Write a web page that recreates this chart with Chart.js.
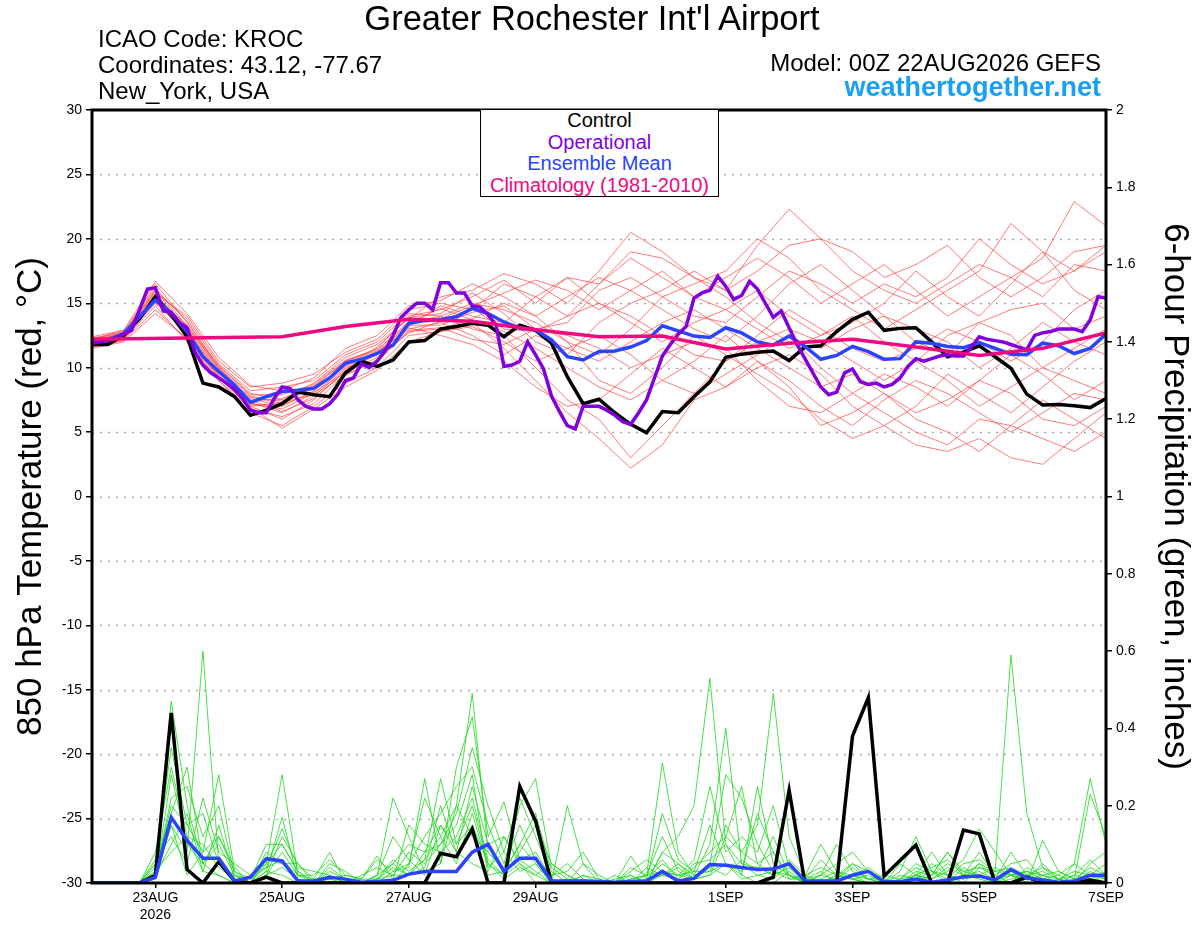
<!DOCTYPE html>
<html>
<head>
<meta charset="utf-8">
<script src="https://cdn.jsdelivr.net/npm/chart.js@4.4.1/dist/chart.umd.min.js"></script>
<style>
  body { margin: 0; background: #fff; font-family: "Liberation Sans", Arial, sans-serif; }
  #wrap { position: relative; width: 1200px; height: 927px; }
  #chart { position: absolute; left: 0; top: 0; }
  .txt { position: absolute; white-space: nowrap; line-height: 1; color: #000; }
  #legendBox { position: absolute; left: 480px; top: 109px; width: 237px; height: 86px;
    border: 1.5px solid #000; background: #fff; text-align: center; font-size: 20px; line-height: 21.5px; }
</style>
</head>
<body>
<div id="wrap">
  <canvas id="chart" width="1200" height="927"></canvas>
  <div class="txt" style="left:0;width:1184px;text-align:center;top:1px;font-size:34.5px">Greater Rochester Int'l Airport</div>
  <div class="txt" style="left:98px;top:27px;font-size:24px">ICAO Code: KROC</div>
  <div class="txt" style="left:98px;top:53px;font-size:24px">Coordinates: 43.12, -77.67</div>
  <div class="txt" style="left:98px;top:79px;font-size:24px">New_York, USA</div>
  <div class="txt" style="right:99px;top:51px;font-size:24px">Model: 00Z 22AUG2026 GEFS</div>
  <div class="txt" style="right:99px;top:74px;font-size:27px;font-weight:bold;color:#18a0f5">weathertogether.net</div>
  <div id="legendBox">
    <div style="color:#000">Control</div>
    <div style="color:#8200dc">Operational</div>
    <div style="color:#2a44ff">Ensemble Mean</div>
    <div style="color:#f0087f">Climatology (1981-2010)</div>
  </div>
</div>
<script>
// forecast hours from 00Z 22AUG2026
const tickHours = [24, 72, 120, 168, 240, 288, 336, 384];
const tickLabels = [['23AUG', '2026'], '25AUG', '27AUG', '29AUG', '1SEP', '3SEP', '5SEP', '7SEP'];

// 850 hPa temperature, 6-hourly
const ctrlTemp = [
  11.8, 11.8, 12.5, 13.8, 15.5, 14.1, 12.4, 8.8,
  8.5, 7.75, 6.3, 6.7, 7.2, 8.1, 7.9, 7.75,
  9.6, 10.5, 10.1, 10.6, 12.0, 12.1, 13.0, 13.2,
  13.45, 13.3, 12.4, 13.3, 12.9, 11.9, 9.3, 7.2,
  7.55, 6.5, 5.6, 4.95, 6.6, 6.5, 7.75, 8.9,
  10.8, 11.05, 11.2, 11.3, 10.55, 11.6, 11.7, 12.8,
  13.75, 14.3, 12.9, 13.05, 13.1, 12.0, 10.85, 11.2,
  11.7, 10.85, 9.95, 7.95, 7.1, 7.15, 7.05, 6.9,
  7.6
];
const meanTemp = [
  11.95, 12.15, 12.65, 13.95, 15.25, 14.2, 12.8, 10.85,
  9.7, 8.65, 7.3, 7.75, 8.15, 8.25, 8.4, 9.2,
  10.35, 10.65, 11.1, 11.75, 13.45, 13.65, 13.75, 13.95,
  14.6, 14.2, 13.55, 13.05, 12.95, 12.15, 10.85, 10.6,
  11.25, 11.3, 11.6, 12.1, 13.25, 12.85, 12.45, 12.35,
  13.1, 12.7, 12.0, 11.75, 12.45, 11.65, 10.65, 10.95,
  11.65, 11.25, 10.65, 10.7, 12.0, 11.9, 11.65, 11.55,
  11.95, 11.5, 11.05, 11.0, 11.9, 11.7, 11.1, 11.5,
  12.6
];
// operational run, 3-hourly
const opTemp = [
  11.9, 12.0, 12.1, 12.3, 12.6, 12.9, 14.5, 16.1,
  16.2, 14.4, 14.3, 13.5, 13.1, 11.2, 10.2, 9.6,
  9.2, 8.8, 8.3, 7.6, 6.7, 6.5, 6.5, 7.6,
  8.5, 8.4, 7.5, 7.0, 6.8, 6.8, 7.2, 7.9,
  9.0, 9.2, 10.3, 10.0, 10.5, 11.3, 12.5, 13.9,
  14.5, 15.0, 15.0, 14.5, 16.6, 16.6, 15.8, 15.8,
  14.8, 14.7, 14.1, 13.3, 10.1, 10.2, 10.5, 12.0,
  11.0, 9.9, 7.8, 6.6, 5.5, 5.25, 7.0, 7.0,
  7.0, 6.7, 6.3, 5.8, 5.6, 6.5, 7.5, 9.2,
  10.9, 11.8, 12.6, 13.2, 15.4, 15.8, 16.0, 17.1,
  16.3, 15.3, 15.6, 16.7, 16.1, 15.0, 13.9, 14.4,
  13.1, 11.8, 10.7, 9.6, 8.5, 7.9, 8.1, 9.6,
  9.9, 8.9, 8.7, 8.8, 8.5, 8.7, 9.2, 10.1,
  10.7, 10.5, 10.7, 10.9, 11.0, 10.9, 10.9, 11.6,
  12.4, 12.2, 12.1, 12.0, 11.8, 11.6, 11.4, 12.5,
  12.7, 12.8, 13.0, 13.0, 13.0, 12.8, 13.7, 15.5,
  15.4
];
const climHours = [0, 72, 96, 120, 144, 168, 192, 216, 240, 264, 288, 312, 336, 360, 384];
const climTemp = [12.2, 12.4, 13.2, 13.75, 13.6, 12.95, 12.4, 12.45, 11.45, 11.9, 12.2, 11.6, 10.95, 11.5, 12.7];

// ensemble members, 12-hourly
const tempMembers = [
  [12.0,12.6,16.5,13.5,10.0,7.8,7.2,8.5,10.5,11.5,14.0,14.5,15.5,16.8,15.0,17.0,16.5,19.0,18.5,17.0,16.0,19.5,22.3,20.0,17.5,16.0,15.0,16.5,18.0,17.0,15.5,18.0,17.5],
  [11.8,12.3,15.0,12.8,9.5,7.0,6.0,7.5,9.8,11.0,13.5,14.0,13.0,12.5,10.0,7.5,6.0,3.0,5.5,8.0,9.5,11.0,12.5,10.0,8.0,6.5,5.0,4.0,6.0,5.5,4.5,3.5,5.0],
  [12.2,12.8,15.8,14.0,10.5,8.5,8.8,9.5,11.2,12.2,14.5,15.0,14.5,16.5,15.5,14.0,16.5,18.5,17.0,15.5,14.5,16.0,14.0,12.5,13.5,15.0,17.5,15.5,14.0,16.5,19.0,17.5,19.5],
  [11.6,12.1,14.5,12.2,9.0,6.5,5.5,7.0,8.8,10.0,12.5,12.8,13.5,11.5,9.0,6.5,4.5,2.2,4.0,7.5,8.5,10.5,9.0,7.0,5.5,7.5,9.0,8.0,6.5,5.0,6.5,8.0,7.5],
  [12.4,12.9,16.2,13.2,10.2,8.0,7.5,8.8,10.8,11.8,13.8,15.5,16.0,17.3,16.5,15.0,17.5,20.5,19.0,17.0,15.5,13.5,12.0,11.5,13.0,14.0,12.0,11.0,13.5,12.5,10.0,11.5,13.0],
  [11.9,12.4,15.2,12.5,9.3,7.2,6.8,8.0,10.0,11.2,13.0,13.5,12.5,11.0,12.5,11.5,10.5,12.0,13.5,14.5,13.0,11.5,10.0,8.5,9.5,8.0,6.5,7.5,9.0,11.0,9.5,7.5,9.0],
  [12.1,12.7,15.9,13.8,10.3,8.2,8.5,9.0,11.0,12.0,14.2,14.0,15.0,14.5,13.5,12.0,11.0,13.0,15.5,16.5,17.5,20.0,18.5,16.0,14.5,13.0,14.5,16.0,17.5,21.2,19.0,16.0,14.5],
  [11.7,12.2,14.8,12.0,9.0,6.8,6.2,7.2,9.5,10.5,12.8,13.0,13.8,15.0,14.0,12.0,9.0,8.0,10.0,12.5,11.0,9.5,8.0,6.0,4.5,5.5,7.0,9.5,8.0,6.5,8.5,10.5,12.0],
  [12.3,12.5,16.0,13.0,9.8,7.6,7.0,8.2,10.2,11.0,13.2,14.8,14.0,13.5,15.5,17.0,15.0,14.0,12.5,11.0,10.5,12.5,14.5,13.0,11.5,10.5,11.5,13.0,12.0,10.5,12.0,14.5,16.0],
  [12.0,12.6,15.5,13.3,9.9,7.4,7.6,8.6,10.5,11.3,13.6,13.8,14.8,15.8,16.8,16.0,14.5,16.0,17.5,15.5,17.0,18.5,17.0,15.0,16.5,18.0,16.0,14.0,15.5,17.0,18.5,22.9,21.0],
  [11.8,12.4,15.3,12.7,9.6,7.3,6.5,7.8,9.9,11.1,13.1,12.5,11.8,10.5,8.5,7.0,7.5,9.5,11.5,10.0,8.5,10.0,11.0,9.5,7.0,5.5,4.0,3.5,4.5,3.0,2.5,4.5,6.5],
  [12.2,12.9,16.7,14.2,10.8,8.6,8.2,9.2,11.5,12.5,14.8,15.2,16.5,15.5,14.0,15.5,17.0,16.0,14.5,13.0,12.0,14.0,16.5,18.0,16.0,14.0,13.0,12.0,10.0,11.5,13.5,12.0,11.0],
  [11.5,12.0,14.2,12.3,9.2,6.9,5.3,6.8,8.5,9.8,12.0,12.8,13.2,12.0,10.5,11.5,12.5,11.0,9.0,8.0,10.5,12.0,13.0,12.0,10.5,9.0,10.5,9.0,7.0,8.5,10.0,9.0,8.0],
  [12.0,12.5,15.6,12.9,9.7,7.7,7.4,8.4,10.1,11.6,13.9,14.2,15.8,14.2,12.0,11.0,13.5,15.0,16.0,17.5,16.0,17.5,19.5,20.0,19.0,17.0,18.0,19.5,17.0,15.5,17.0,19.0,19.5],
  [12.3,12.7,16.1,13.6,10.1,7.9,7.9,8.7,10.6,11.4,13.5,14.6,13.7,12.8,11.5,10.0,8.5,7.5,9.0,10.5,12.5,10.5,8.5,5.5,6.5,8.0,6.0,5.0,3.5,5.5,7.5,6.0,4.5],
  [11.9,12.3,15.1,12.6,9.4,7.1,7.1,8.1,9.6,10.8,12.7,13.6,14.6,13.0,12.8,14.0,15.0,13.5,12.0,13.5,14.5,13.0,11.5,12.5,14.0,12.0,10.5,12.5,13.5,14.5,15.0,13.0,14.0],
  [12.1,12.6,15.7,13.1,10.0,7.5,6.6,7.6,9.7,11.2,13.3,13.3,14.3,14.8,13.0,13.5,16.0,17.0,15.5,14.0,13.5,15.5,17.5,16.5,15.0,16.5,15.5,17.0,20.0,18.0,16.5,17.5,19.0],
  [11.7,12.2,15.4,12.4,9.2,7.0,7.3,7.9,9.4,10.6,12.9,13.1,12.2,11.8,13.0,12.5,11.5,10.0,11.0,12.0,11.5,9.0,7.0,6.5,8.0,9.5,8.5,7.0,9.0,8.0,6.0,5.5,7.0]
];

// 6-hour precipitation (inches), 6-hourly
const ctrlPrecip = [
  0, 0, 0, 0, 0.02, 0.44, 0.035, 0,
  0.055, 0.005, 0, 0.015, 0, 0, 0, 0,
  0, 0, 0, 0, 0, 0, 0.077, 0.068,
  0.14, 0, 0, 0.25, 0.16, 0, 0, 0,
  0, 0, 0, 0, 0, 0, 0, 0,
  0, 0, 0, 0.015, 0.24, 0, 0, 0,
  0.38, 0.48, 0.018, 0.058, 0.098, 0, 0, 0.137,
  0.127, 0, 0, 0.015, 0, 0, 0, 0.008,
  0
];
const meanPrecip = [
  0, 0, 0, 0, 0.015, 0.17, 0.11, 0.064,
  0.064, 0.005, 0.015, 0.063, 0.057, 0.005, 0.005, 0.015,
  0.01, 0.002, 0.004, 0.007, 0.023, 0.03, 0.03, 0.03,
  0.08, 0.1, 0.03, 0.064, 0.064, 0.005, 0.005, 0.005,
  0.004, 0.002, 0.004, 0.005, 0.03, 0.005, 0.012, 0.048,
  0.046, 0.04, 0.035, 0.036, 0.05, 0.006, 0.005, 0.005,
  0.02, 0.03, 0.003, 0.003, 0.01, 0.002, 0.008, 0.016,
  0.018, 0.008, 0.035, 0.013, 0.008, 0.002, 0.005, 0.02,
  0.02
];
const precipMembers = [
  [0,0,0,0,0.02,0.15,0.08,0.6,0.05,0,0,0.03,0.02, 0,0,0,0,0,0.02,0.05,0.1,0.08,0.15,0.1,0.2,0.05, 0.02,0.05,0,0,0,0,0,0,0.02,0,0.08,0.12,0.2, 0.53,0.1,0.02,0,0,0.03,0,0,0.02,0.01,0,0,0, 0.02,0,0,0.04,0.02,0,0.03,0,0,0.01,0,0.02,0],
  [0,0,0,0,0.05,0.47,0.2,0.05,0.02,0,0.02,0.05,0.1, 0.03,0,0.02,0,0,0,0,0.05,0.22,0.12,0.2,0.49,0.08, 0.03,0.1,0.05,0,0,0.02,0,0,0,0.02,0.03,0.02,0.01, 0.05,0.28,0.22,0.1,0.03,0.02,0,0,0.01,0.05,0.03,0,0, 0,0.02,0.08,0.02,0.01,0,0.02,0.03,0.01,0,0,0.03,0.01],
  [0,0,0,0,0.08,0.3,0.12,0.03,0.02,0,0,0.02,0.12, 0.05,0,0,0,0.02,0.04,0.02,0.02,0.04,0.2,0.08,0.05,0.03, 0.12,0.05,0.02,0,0,0.01,0,0,0,0.04,0.02,0.05,0.01, 0.02,0.12,0.08,0.15,0.49,0.12,0.02,0,0.01,0.02,0,0,0.02, 0.01,0.05,0.02,0,0.04,0.03,0.59,0.18,0.04,0.01,0,0.02,0.02],
  [0,0,0,0,0.03,0.2,0.15,0.08,0.28,0.03,0,0.05,0.28, 0.02,0,0.01,0,0,0.01,0.06,0.03,0.06,0.27,0.1,0.15,0.05, 0.01,0.04,0.02,0.05,0.02,0,0,0,0.01,0.02,0.31,0.08,0.02, 0.1,0.4,0.05,0.02,0.01,0.05,0,0,0.02,0.01,0,0,0.03, 0.12,0.03,0,0.02,0.08,0.02,0,0.04,0.02,0,0.05,0.27,0.1],
  [0,0,0,0,0.01,0.28,0.1,0.05,0.1,0.02,0,0.03,0.17, 0.01,0,0,0,0,0.02,0.22,0.12,0.03,0.05,0.3,0.43,0.12, 0.21,0.06,0.03,0,0.2,0.05,0,0,0.07,0.01,0.18,0.06,0.03, 0.03,0.05,0.02,0.25,0.05,0.02,0,0.02,0.1,0.03,0.01,0,0.05, 0.02,0.01,0.03,0.06,0.14,0.08,0.02,0,0.11,0.03,0.01,0.23,0.12],
  [0,0,0,0,0.02,0.22,0.25,0.12,0.2,0.02,0,0.02,0.08, 0.02,0.01,0.08,0,0,0,0.03,0.05,0.12,0.18,0.25,0.3,0.15, 0.05,0.2,0.27,0.04,0.01,0,0,0,0,0.01,0.05,0.02,0.03, 0.15,0.05,0.01,0.02,0.03,0.01,0.02,0.1,0.03,0.01,0,0,0, 0.03,0.02,0.08,0.03,0.02,0,0.01,0.02,0.04,0.02,0,0.05,0.08],
  [0,0,0,0,0.04,0.18,0.3,0.05,0.12,0.03,0.01,0.1,0.1, 0.03,0,0.04,0.01,0,0.01,0.02,0.08,0.05,0.1,0.18,0.35,0.2, 0.08,0.22,0.12,0.02,0.03,0.08,0.01,0,0,0,0.02,0.01,0.04, 0.08,0.12,0.25,0.05,0.02,0.04,0,0.01,0.03,0.02,0.01,0.01,0, 0.02,0.08,0.02,0.01,0.05,0.01,0.02,0.01,0.02,0.03,0.01,0.04,0.02],
  [0,0,0,0,0.06,0.12,0.05,0.22,0.08,0.05,0.02,0.04,0.06, 0.02,0.02,0.06,0.02,0.01,0.07,0.01,0.15,0.1,0.08,0.12,0.22,0.06, 0.02,0.08,0.15,0.05,0.02,0,0,0.01,0.02,0,0.08,0.05,0.02, 0.03,0.15,0.08,0.05,0.08,0.02,0.01,0.02,0.05,0.08,0.03,0,0.01, 0.04,0.02,0.05,0.03,0.04,0.02,0.05,0.06,0.01,0,0.02,0.01,0.03],
  [0,0,0,0,0.02,0.1,0.18,0.03,0.15,0.01,0,0.06,0.05, 0.01,0,0.05,0.03,0,0.02,0.12,0.06,0.02,0.15,0.08,0.25,0.1, 0.12,0.06,0.08,0.01,0,0.05,0.02,0,0.04,0.02,0.12,0.03,0.01, 0.02,0.05,0.03,0.18,0.08,0.01,0.01,0.03,0,0.02,0.04,0.01,0, 0.02,0.04,0.06,0.02,0.03,0.01,0.08,0.02,0.01,0.02,0.05,0.02,0.01],
  [0,0,0,0,0.05,0.35,0.15,0.18,0.05,0.02,0.01,0.04,0.14, 0.04,0.03,0.02,0,0.01,0.01,0.04,0.02,0.08,0.1,0.15,0.28,0.02, 0.03,0.1,0.18,0.03,0,0.02,0.01,0,0.03,0.06,0.03,0.02,0.06, 0.25,0.08,0.12,0.08,0.2,0.04,0.01,0.06,0.02,0.01,0.02,0,0.01, 0.05,0.03,0.01,0.05,0.06,0.03,0.02,0.01,0.05,0.01,0.02,0.06,0.02],
  [0,0,0,0,0.03,0.08,0.12,0.1,0.04,0.01,0,0.02,0.04, 0.01,0,0.03,0.01,0,0.01,0.05,0.02,0.06,0.12,0.05,0.18,0.04, 0.08,0.03,0.05,0,0.01,0,0,0.02,0,0.01,0.02,0.04,0.01, 0.04,0.02,0.06,0.03,0.12,0.02,0,0.02,0.01,0.04,0.01,0,0, 0.01,0.03,0.02,0.01,0.02,0.04,0.02,0.03,0.02,0.01,0,0.02,0.01],
  [0,0,0,0,0.01,0.15,0.02,0.08,0.12,0.04,0,0.08,0.05, 0.05,0.01,0.01,0.02,0.01,0.06,0.03,0.04,0.27,0.05,0.2,0.12,0.08, 0.04,0.15,0.06,0.02,0.05,0.01,0,0,0.01,0.02,0.06,0.01,0.05, 0.06,0.1,0.05,0.04,0.02,0.06,0.02,0.04,0.02,0.05,0.01,0.02,0.01, 0.02,0.01,0.04,0.02,0.05,0.03,0.04,0.02,0.03,0.01,0.03,0.02,0.05]
];

const FONT = '"Liberation Sans", Arial, sans-serif';

function points(vals, step) {
  return vals.map((v, i) => ({ x: i * step, y: v }));
}

function line(data, color, width, axis) {
  return { data: data, borderColor: color, borderWidth: width, yAxisID: axis,
           pointRadius: 0, tension: 0, fill: false };
}

const datasets = [
  line(climHours.map((h, i) => ({ x: h, y: climTemp[i] })), '#f0087f', 3.5, 'yT'),
  line(points(opTemp, 3), '#8200dc', 3.5, 'yT'),
  line(points(meanTemp, 6), '#2a44ff', 3.5, 'yT'),
  line(points(ctrlTemp, 6), '#000000', 3.5, 'yT'),
  line(points(meanPrecip, 6), '#2a44ff', 3.5, 'yP'),
  line(points(ctrlPrecip, 6), '#000000', 3.5, 'yP')
];
tempMembers.forEach(m => datasets.push(line(points(m, 12), 'rgba(255,70,70,0.8)', 0.9, 'yT')));
precipMembers.forEach(m => datasets.push(line(points(m, 6), 'rgba(30,215,30,0.9)', 0.9, 'yP')));

// dotted horizontal guides at temperature ticks
const gridPlugin = {
  id: 'dotGrid',
  beforeDatasetsDraw(chart) {
    const { ctx, chartArea, scales } = chart;
    ctx.save();
    ctx.strokeStyle = '#a8a8a8';
    ctx.lineWidth = 1.5;
    ctx.setLineDash([2, 6]);
    for (let v = -25; v <= 25; v += 5) {
      const y = Math.round(scales.yT.getPixelForValue(v)) + 0.5;
      ctx.beginPath();
      ctx.moveTo(chartArea.left, y);
      ctx.lineTo(chartArea.right, y);
      ctx.stroke();
    }
    ctx.restore();
  }
};

const framePlugin = {
  id: 'frame',
  afterDatasetsDraw(chart) {
    const { ctx, chartArea } = chart;
    ctx.save();
    ctx.strokeStyle = '#000';
    ctx.lineWidth = 3;
    ctx.strokeRect(chartArea.left, chartArea.top, chartArea.right - chartArea.left, chartArea.bottom - chartArea.top);
    ctx.restore();
  }
};

new Chart(document.getElementById('chart'), {
  type: 'line',
  data: { datasets: datasets },
  plugins: [gridPlugin, framePlugin],
  options: {
    responsive: false,
    animation: false,
    layout: { padding: { top: 110, left: 0, right: 0, bottom: 0 } },
    plugins: { legend: { display: false }, tooltip: { enabled: false } },
    scales: {
      x: {
        type: 'linear', min: 0, max: 384,
        afterBuildTicks: s => { s.ticks = tickHours.map(v => ({ value: v })); },
        afterFit: s => { s.height = 44; },
        ticks: {
          autoSkip: false, maxRotation: 0, padding: 2, color: '#000',
          font: { family: FONT, size: 14 },
          callback: v => tickLabels[tickHours.indexOf(v)]
        },
        grid: { drawOnChartArea: false, drawTicks: true, tickLength: 5, color: '#000', lineWidth: 1.5 },
        border: { display: false }
      },
      yT: {
        position: 'left', min: -30, max: 30,
        afterFit: s => { s.width = 92; },
        ticks: { stepSize: 5, padding: 4, color: '#000', font: { family: FONT, size: 14 } },
        grid: { drawOnChartArea: false, drawTicks: true, tickLength: 6, color: '#000', lineWidth: 1.5 },
        border: { display: false },
        title: { display: true, text: '850 hPa Temperature (red, °C)', color: '#000',
                 font: { family: FONT, size: 35 }, padding: { top: 10, bottom: 0 } }
      },
      yP: {
        position: 'right', min: 0, max: 2,
        afterFit: s => { s.width = 94; },
        ticks: { stepSize: 0.2, padding: 4, color: '#000', font: { family: FONT, size: 14 },
                 callback: v => String(+v.toFixed(1)) },
        grid: { drawOnChartArea: false, drawTicks: true, tickLength: 6, color: '#000', lineWidth: 1.5 },
        border: { display: false },
        title: { display: true, text: '6-hour Precipitation (green, inches)', color: '#000',
                 font: { family: FONT, size: 35 }, padding: { top: 4, bottom: 0 } }
      }
    }
  }
});
</script>
</body>
</html>
